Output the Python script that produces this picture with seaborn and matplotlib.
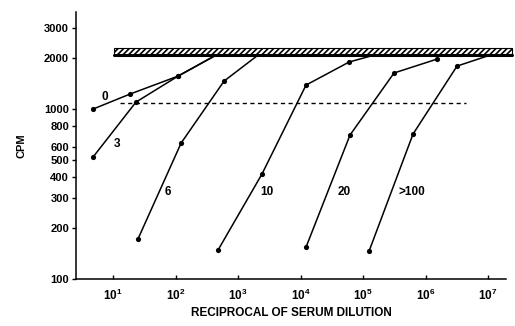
import numpy as np
import pandas as pd
import matplotlib
matplotlib.use("Agg")
import matplotlib.pyplot as plt
import seaborn as sns
from matplotlib.patches import Rectangle

# curves (last point of most curves sits on the plateau band, no dot)
s0_x = [4.8, 18.7, 110, 428]
s0_y = [1000, 1225, 1563, 2060]
s0_dot = [1, 1, 1, 0]

s3_x = [4.8, 23.3, 110, 428]
s3_y = [522, 1099, 1563, 2060]
s3_dot = [1, 1, 1, 0]

s6_x = [25.1, 123, 598, 2090]
s6_y = [172, 631, 1461, 2077]
s6_dot = [1, 1, 1, 0]

s10_x = [479, 2420, 12250, 59700, 150000]
s10_y = [148, 415, 1384, 1890, 2077]
s10_dot = [1, 1, 1, 1, 0]

s20_x = [12250, 61900, 313000, 1530000]
s20_y = [154, 703, 1630, 1968]
s20_dot = [1, 1, 1, 1]

s100_x = [125000, 631000, 3190000, 10800000]
s100_y = [146, 713, 1790, 2077]
s100_dot = [1, 1, 1, 0]

labels = ["0", "3", "6", "10", "20", ">100"]
label_x = [7.4, 11.6, 76, 2900, 49700, 608000]
label_y = [1180, 620, 325, 325, 325, 325]

cutoff = 1085          # dashed line
band_lo, band_hi = 2078, 2286

rows = []
for name, xs, ys, ds in zip(labels,
                            [s0_x, s3_x, s6_x, s10_x, s20_x, s100_x],
                            [s0_y, s3_y, s6_y, s10_y, s20_y, s100_y],
                            [s0_dot, s3_dot, s6_dot, s10_dot, s20_dot, s100_dot]):
    for i, (x, y, d) in enumerate(zip(xs, ys, ds)):
        rows.append({"serum": name, "dilution": x, "cpm": y, "dot": d, "order": i})
df = pd.DataFrame(rows)

sns.set_style("ticks")
plt.rcParams["font.family"] = ["Liberation Sans", "DejaVu Sans"]
plt.rcParams["font.weight"] = "bold"
plt.rcParams["text.color"] = "black"
plt.rcParams["axes.labelcolor"] = "black"
plt.rcParams["xtick.color"] = "black"
plt.rcParams["ytick.color"] = "black"
plt.rcParams["axes.edgecolor"] = "black"
plt.rcParams["hatch.linewidth"] = 1.2
plt.rcParams["mathtext.fontset"] = "custom"
plt.rcParams["mathtext.rm"] = "Liberation Sans:bold"
plt.rcParams["mathtext.it"] = "Liberation Sans:bold"
plt.rcParams["mathtext.bf"] = "Liberation Sans:bold"

fig = plt.figure(figsize=(5.15, 3.26), dpi=100)
ax = fig.add_axes([0.1476, 0.1442, 0.835, 0.819])
ax.set_xscale("log")
ax.set_yscale("log")

for name in labels:
    sub = df[df["serum"] == name].sort_values("order")
    sns.lineplot(data=sub, x="dilution", y="cpm", color="black", lw=1.1,
                 sort=False, estimator=None, ax=ax)
sns.scatterplot(data=df[df["dot"] == 1], x="dilution", y="cpm", color="black",
                s=14, edgecolor="black", linewidth=0, ax=ax, zorder=5)

# plateau band
band = Rectangle((10.4, band_lo), 2.4e7 - 10.4, band_hi - band_lo,
                 facecolor="white", edgecolor="black", hatch="//////",
                 lw=0.8, clip_on=False, zorder=3)
ax.add_patch(band)
ax.plot([10.4, 2.4e7], [band_lo, band_lo], color="black", lw=2.2,
        clip_on=False, zorder=4)

# cut-off line
ax.plot([13, 4.5e6], [cutoff, cutoff], color="black", lw=1, ls=(0, (3, 2.5)))

for t, x, y in zip(labels, label_x, label_y):
    ax.text(x, y, t, fontsize=8.5, fontweight="bold", ha="center", va="center")

ax.set_xlim(2.56, 1.94e7)
ax.set_ylim(100, 3725)

yt = [100, 200, 300, 400, 500, 600, 800, 1000, 2000, 3000]
ax.set_yticks(yt)
ax.set_yticklabels([str(v) for v in yt])
ax.yaxis.set_minor_locator(matplotlib.ticker.NullLocator())
xt = [10 ** k for k in range(1, 8)]
ax.set_xticks(xt)
ax.set_xticklabels([r"$10^{%d}$" % k for k in range(1, 8)])
ax.xaxis.set_minor_locator(matplotlib.ticker.NullLocator())

ax.tick_params(axis="y", direction="out", length=3, width=1, labelsize=8, pad=2)
ax.tick_params(axis="x", direction="in", length=3, width=1, labelsize=8.5, pad=6)
for lab in ax.get_yticklabels():
    lab.set_fontweight("bold")

sns.despine(ax=ax)
ax.spines["left"].set_linewidth(1.1)
ax.spines["bottom"].set_linewidth(1.1)

ax.set_xlabel("RECIPROCAL OF SERUM DILUTION", fontsize=8.5, fontweight="bold", labelpad=3)
ax.set_ylabel("CPM", fontsize=8, fontweight="bold", labelpad=13)

fig.savefig("out.png", dpi=100)
